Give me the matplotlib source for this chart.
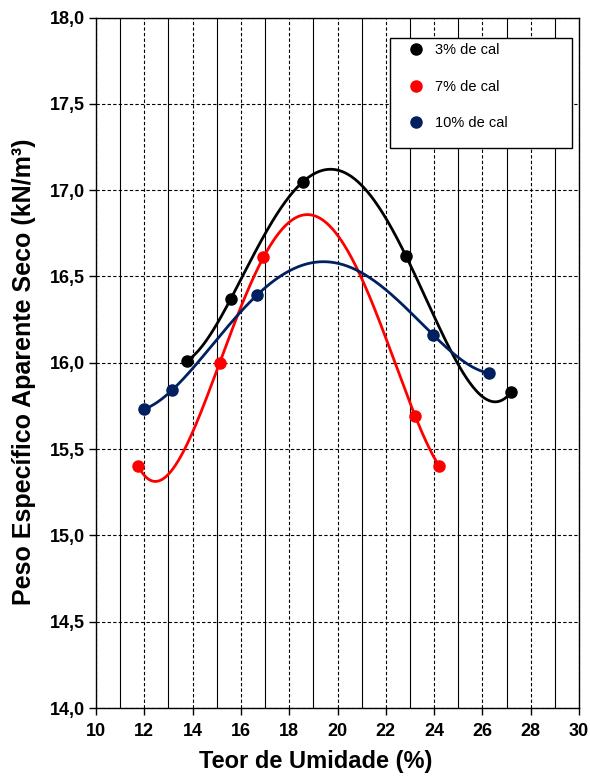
import numpy as np
import matplotlib
matplotlib.use("Agg")
import matplotlib.pyplot as plt
from matplotlib.patches import Rectangle
from matplotlib.lines import Line2D

plt.rcParams['font.family'] = ['Liberation Sans', 'DejaVu Sans']

# Data
x_3 = [13.75, 15.58, 18.58, 22.83, 27.19]
y_3 = [16.01, 16.37, 17.05, 16.62, 15.83]

x_7 = [11.75, 15.12, 16.93, 23.22, 24.22]
y_7 = [15.40, 16.00, 16.61, 15.69, 15.40]

x_10 = [11.97, 13.14, 16.65, 23.97, 26.28]
y_10 = [15.73, 15.84, 16.39, 16.16, 15.94]

labels = ["3% de cal", "7% de cal", "10% de cal"]
colors = ["#000000", "#FF0000", "#002060"]

x_ticks = list(range(10, 31, 2))
x_ticklabels = [str(t) for t in x_ticks]
y_ticks = [14.0, 14.5, 15.0, 15.5, 16.0, 16.5, 17.0, 17.5, 18.0]
y_ticklabels = ["14,0", "14,5", "15,0", "15,5", "16,0", "16,5", "17,0", "17,5", "18,0"]

fig = plt.figure(figsize=(5.9, 7.76), dpi=100)
ax = fig.add_axes([0.1627, 0.0876, 0.8187, 0.8898])

ax.set_xlim(10, 30)
ax.set_ylim(14, 18)

# grid
ax.set_xticks(x_ticks)
ax.set_xticks(range(11, 30, 2), minor=True)
ax.set_yticks(y_ticks)
ax.set_xticklabels(x_ticklabels)
ax.set_yticklabels(y_ticklabels)
ax.grid(which='major', axis='both', color='black', linestyle=(0, (3, 2)), linewidth=0.8)
ax.grid(which='minor', axis='x', color='black', linestyle='-', linewidth=0.8)
ax.set_axisbelow(True)

ax.tick_params(axis='both', which='major', direction='out', length=5, width=1,
               labelsize=13, pad=3)
ax.tick_params(axis='x', which='major', pad=6)
ax.tick_params(axis='x', which='minor', length=0)
for lab in ax.get_xticklabels() + ax.get_yticklabels():
    lab.set_fontweight('bold')
for s in ax.spines.values():
    s.set_linewidth(1.0)

series = [(x_3, y_3), (x_7, y_7), (x_10, y_10)]
for (xs, ys), c in zip(series, colors):
    coef = np.polyfit(xs, ys, 4)
    xx = np.linspace(min(xs), max(xs), 300)
    ax.plot(xx, np.polyval(coef, xx), color=c, linewidth=2.0, zorder=3)
    ax.plot(xs, ys, 'o', color=c, markersize=8, zorder=4)

ax.set_xlabel("Teor de Umidade (%)", fontsize=17, fontweight='bold')
ax.xaxis.set_label_coords(0.455, -0.061)
ax.set_ylabel("Peso Específico Aparente Seco (kN/m³)", fontsize=18, fontweight='bold')
ax.yaxis.set_label_coords(-0.125, 0.487)

# legend box
ax.add_patch(Rectangle((0.609, 0.811), 0.377, 0.159, transform=ax.transAxes,
                       facecolor='white', edgecolor='black', linewidth=1.0, zorder=5))
handles = [Line2D([], [], marker='o', linestyle='none', color=c, markersize=8) for c in colors]
leg = ax.legend(handles, labels, loc='upper left', bbox_to_anchor=(0.621, 0.982),
                frameon=False, fontsize=10.5, labelspacing=1.55, handlelength=1.0,
                handletextpad=0.8, borderpad=0.4)
leg.set_zorder(6)

fig.savefig("out.png", dpi=100)
